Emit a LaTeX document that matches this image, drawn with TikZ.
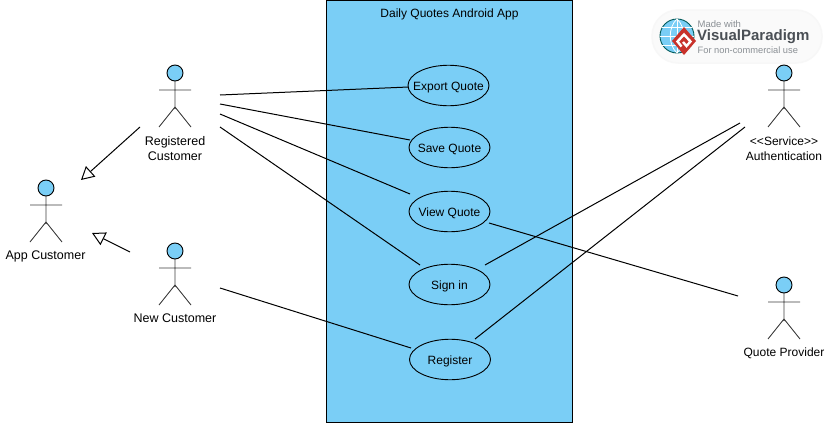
\documentclass[tikz,border=0pt]{standalone}
\usepackage{fontspec}
\setmainfont{Liberation Sans}
\usetikzlibrary{arrows.meta,shapes.geometric}
\definecolor{sysblue}{HTML}{7ACEF6}
\definecolor{vpgray}{HTML}{4A4F55}
\definecolor{vplight}{HTML}{8A8F94}
\definecolor{vpred}{HTML}{C8322B}
\newcommand{\uctext}[1]{\raisebox{-4.5pt}[0pt][0pt]{\makebox[0pt][c]{#1}}}
\tikzset{
  lbl/.style={inner sep=0pt,font=\fontsize{12}{15}\selectfont,align=center,text=black},
  lblwide/.style={lbl,font=\fontsize{12.5}{15}\selectfont},
  usecase/.style={ellipse,draw=black,line width=.9pt,fill=sysblue,minimum width=81pt,minimum height=40.5pt,inner sep=0pt,font=\fontsize{12}{15}\selectfont},
  actorbox/.style={minimum width=32pt,minimum height=63pt,inner sep=0pt},
  assoc/.style={draw=black,line width=1pt},
  general/.style={draw=black,line width=1pt,-{Triangle[open,length=13pt,width=14pt,fill=white]}},
  limb/.style={draw=black!75,line width=.9pt},
  pics/stick/.style={code={
    \draw[limb] (0,-15) -- (0,19) (-16,0) -- (16,0) (-16,37) -- (0,17) -- (16,37);
    \draw[line width=.9pt,fill=sysblue] (0,-17) circle (8);
  }}
}
\begin{document}
\begin{tikzpicture}[x=1pt,y=-1pt]
\useasboundingbox (0,0) rectangle (830,423);
\fill[white] (0,0) rectangle (830,423);

% system
\node[draw=black,line width=1pt,fill=sysblue,minimum width=246.5pt,minimum height=422pt,inner sep=0pt] (sys) at (449.5,211) {};
\node[lbl] (systitle) at (449.5,14) {Daily Quotes Android App};

% use cases
\node[usecase] (export) at (448.5,85.5) {\uctext{Export Quote}};
\node[usecase] (save) at (449.5,147.5) {\uctext{Save Quote}};
\node[usecase] (view) at (449.5,211.5) {\uctext{View Quote}};
\node[usecase] (signin) at (449.5,284.5) {\uctext{Sign in}};
\node[usecase] (register) at (450,359.5) {\uctext{Register}};

% actors
\node[actorbox] (rc) at (175,96) {}; \pic at (175,90) {stick};
\node[actorbox] (ac) at (46,211) {}; \pic at (46,205) {stick};
\node[actorbox] (nc) at (175,274) {}; \pic at (175,268) {stick};
\node[actorbox] (au) at (784,96) {}; \pic at (784,90) {stick};
\node[actorbox] (qp) at (784,308) {}; \pic at (784,302) {stick};

\node[lblwide] (rclabel) at (175,148.5) {Registered\\Customer};
\node[lblwide] (aclabel) at (45.5,256) {App Customer};
\node[lblwide] (nclabel) at (175,318) {New Customer};
\node[lbl] (aulabel) at (784,148.5) {<{}<Service>{}>\\Authentication};
\node[lbl] (qplabel) at (784,353.5) {Quote Provider};

% associations
\draw[assoc] ([shift={(45,-1)}]rc.center) -- ([shift={(-40,1.5)}]export.center);
\draw[assoc] ([shift={(45,8)}]rc.center) -- ([shift={(-39.5,-7.5)}]save.center);
\draw[assoc] ([shift={(45,18)}]rc.center) -- ([shift={(-39.5,-17.5)}]view.center);
\draw[assoc] ([shift={(45,31)}]rc.center) -- ([shift={(-29.5,-19.5)}]signin.center);
\draw[assoc] ([shift={(45,14)}]nc.center) -- ([shift={(-39,-11.5)}]register.center);
\draw[assoc] ([shift={(35.5,-19.5)}]signin.center) -- ([shift={(-44,27)}]au.center);
\draw[assoc] ([shift={(25,-20.5)}]register.center) -- ([shift={(-39,31)}]au.center);
\draw[assoc] ([shift={(39.5,11.5)}]view.center) -- ([shift={(-46,-12)}]qp.center);

% generalizations
\draw[general] ([shift={(-35,31)}]rc.center) -- ([shift={(35,-31)}]ac.center);
\draw[general] ([shift={(-45,-22)}]nc.center) -- ([shift={(46,22)}]ac.center);

% badge
\node[draw=black!3,line width=1.5pt,fill=black!2,rounded corners=26pt,minimum width=170pt,minimum height=53pt,inner sep=0pt] (badge) at (737,36.5) {};
\draw[draw=teal!70!black,line width=.9pt,fill=sysblue] (677,36) circle (17);
\draw[white,line width=.8pt] (677,19) -- (677,53) (660,36) -- (694,36)
  (662,27) -- (692,27) (662,45) -- (692,45);
\draw[white,line width=.8pt] (677,19) .. controls (668,27) and (668,45) .. (677,53);
\draw[white,line width=.8pt] (677,19) .. controls (686,27) and (686,45) .. (677,53);
\fill[vpred] (684,27) -- (696,41) -- (684,55) -- (672,41) -- cycle;
\draw[white,line width=2.4pt] (681.5,46.5) -- (677.5,41.5) -- (684,34.5) -- (690.5,41.5) -- (686.5,46) -- (683,42);
\node[anchor=west,inner sep=0pt,text=vplight,font=\fontsize{9.5}{12}\selectfont] (vp1) at (697.5,24) {Made with};
\node[anchor=west,inner sep=0pt,text=vpgray,font=\fontsize{15}{18}\selectfont\bfseries] (vp2) at (697,36.5) {VisualParadigm};
\node[anchor=west,inner sep=0pt,text=vplight,font=\fontsize{9.3}{12}\selectfont] (vp3) at (697.5,50) {For non-commercial use};
\end{tikzpicture}
\end{document}
